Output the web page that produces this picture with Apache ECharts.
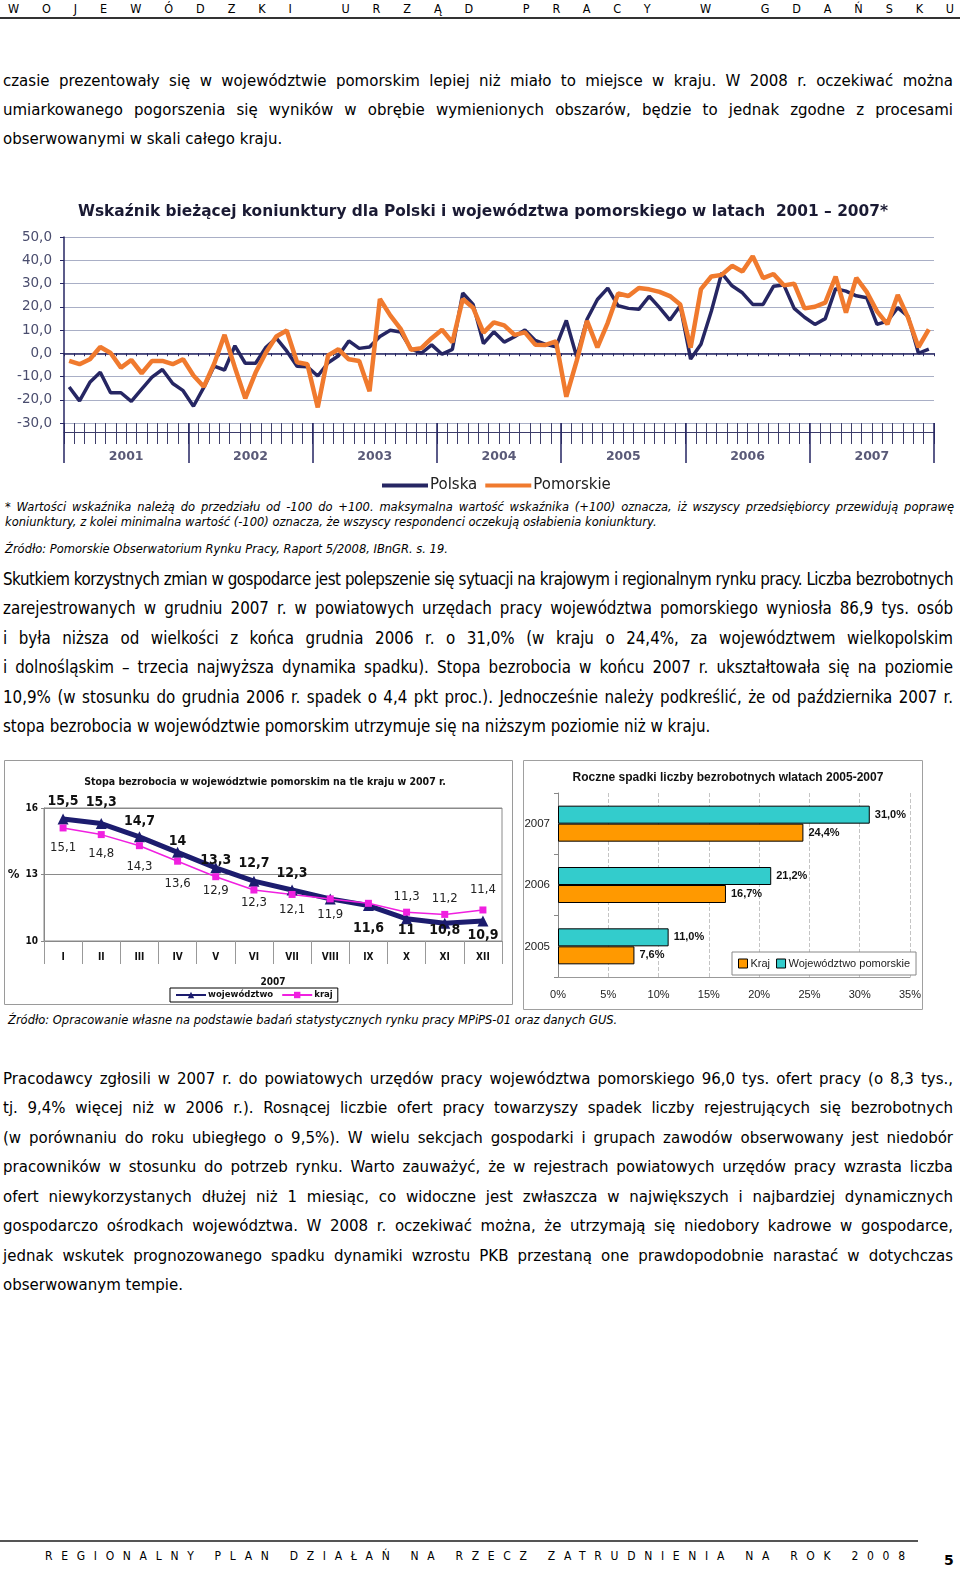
<!DOCTYPE html>
<html><head><meta charset="utf-8">
<script src="https://cdn.jsdelivr.net/npm/echarts/dist/echarts.min.js"></script>
<style>
html,body{margin:0;padding:0;background:#fff;}
body{width:960px;height:1569px;position:relative;overflow:hidden;font-family:"DejaVu Sans",Verdana,sans-serif;color:#000;}
.l{position:absolute;left:3px;width:950px;height:20px;line-height:20px;font-size:15px;white-space:nowrap;}
.c{font-family:"DejaVu Sans Condensed","DejaVu Sans",sans-serif;font-size:16.8px;}
.f{position:absolute;left:5px;width:949px;height:16px;line-height:16px;font-size:11.5px;font-style:italic;white-space:nowrap;}
.j{text-align:justify;text-align-last:justify;}
.hd{position:absolute;white-space:nowrap;font-family:"DejaVu Sans Condensed","DejaVu Sans",sans-serif;}
.rule{position:absolute;background:#333;}
.ch{position:absolute;}
</style>
</head><body>

<div class="hd" id="hdr" style="left:8px;top:1px;font-size:12.5px;line-height:16px;">WOJEWÓDZKI URZĄD PRACY W GDAŃSKU</div>
<div class="rule" style="left:0;top:17px;width:960px;height:2px;"></div>

<div class="l" data-j="1" style="top:71px;"><span>czasie prezentowały się w województwie pomorskim lepiej niż miało to miejsce w kraju. W 2008 r. oczekiwać można</span></div>
<div class="l" data-j="1" style="top:100px;"><span>umiarkowanego pogorszenia się wyników w obrębie wymienionych obszarów, będzie to jednak zgodne z procesami</span></div>
<div class="l" style="top:129px;"><span>obserwowanymi w skali całego kraju.</span></div>

<div class="ch" id="c1" style="left:0;top:190px;width:960px;height:300px;"></div>

<div class="f" data-j="1" style="top:499px;"><span>* Wartości wskaźnika należą do przedziału od -100 do +100. maksymalna wartość wskaźnika (+100) oznacza, iż wszyscy przedsiębiorcy przewidują poprawę</span></div>
<div class="f" style="top:514px;"><span>koniunktury, z kolei minimalna wartość (-100) oznacza, że wszyscy respondenci oczekują osłabienia koniunktury.</span></div>
<div class="f" style="top:541px;"><span>Źródło: Pomorskie Obserwatorium Rynku Pracy, Raport 5/2008, IBnGR. s. 19.</span></div>

<div class="l c" data-j="1" style="top:569px;"><span>Skutkiem korzystnych zmian w gospodarce jest polepszenie się sytuacji na krajowym i regionalnym rynku pracy. Liczba bezrobotnych</span></div>
<div class="l c" data-j="1" style="top:598px;"><span>zarejestrowanych w grudniu 2007 r. w powiatowych urzędach pracy województwa pomorskiego wyniosła 86,9 tys. osób</span></div>
<div class="l c" data-j="1" style="top:628px;"><span>i była niższa od wielkości z końca grudnia 2006 r. o 31,0% (w kraju o 24,4%, za województwem wielkopolskim</span></div>
<div class="l c" data-j="1" style="top:657px;"><span>i dolnośląskim – trzecia najwyższa dynamika spadku). Stopa bezrobocia w końcu 2007 r. ukształtowała się na poziomie</span></div>
<div class="l c" data-j="1" style="top:687px;"><span>10,9% (w stosunku do grudnia 2006 r. spadek o 4,4 pkt proc.). Jednocześnie należy podkreślić, że od października 2007 r.</span></div>
<div class="l c" style="top:716px;"><span>stopa bezrobocia w województwie pomorskim utrzymuje się na niższym poziomie niż w kraju.</span></div>

<div class="ch" id="c2" style="left:0;top:755px;width:520px;height:255px;"></div>
<div class="ch" id="c3" style="left:515px;top:755px;width:445px;height:255px;"></div>

<div class="f" style="top:1012px;left:8px;"><span>Źródło: Opracowanie własne na podstawie badań statystycznych rynku pracy MPiPS-01 oraz danych GUS.</span></div>

<div class="l" data-j="1" style="top:1069px;"><span>Pracodawcy zgłosili w 2007 r. do powiatowych urzędów pracy województwa pomorskiego 96,0 tys. ofert pracy (o 8,3 tys.,</span></div>
<div class="l" data-j="1" style="top:1098px;"><span>tj. 9,4% więcej niż w 2006 r.). Rosnącej liczbie ofert pracy towarzyszy spadek liczby rejestrujących się bezrobotnych</span></div>
<div class="l" data-j="1" style="top:1128px;"><span>(w porównaniu do roku ubiegłego o 9,5%). W wielu sekcjach gospodarki i grupach zawodów obserwowany jest niedobór</span></div>
<div class="l" data-j="1" style="top:1157px;"><span>pracowników w stosunku do potrzeb rynku. Warto zauważyć, że w rejestrach powiatowych urzędów pracy wzrasta liczba</span></div>
<div class="l" data-j="1" style="top:1187px;"><span>ofert niewykorzystanych dłużej niż 1 miesiąc, co widoczne jest zwłaszcza w największych i najbardziej dynamicznych</span></div>
<div class="l" data-j="1" style="top:1216px;"><span>gospodarczo ośrodkach województwa. W 2008 r. oczekiwać można, że utrzymają się niedobory kadrowe w gospodarce,</span></div>
<div class="l" data-j="1" style="top:1246px;"><span>jednak wskutek prognozowanego spadku dynamiki wzrostu PKB przestaną one prawdopodobnie narastać w dotychczas</span></div>
<div class="l" style="top:1275px;"><span>obserwowanym tempie.</span></div>

<div class="rule" style="left:0;top:1540px;width:918px;height:2px;background:#555;"></div>
<div class="hd" id="ftr" style="left:45px;top:1548px;font-size:12px;line-height:16px;">REGIONALNY PLAN DZIAŁAŃ NA RZECZ ZATRUDNIENIA NA ROK 2008</div>
<div class="hd" style="left:944px;top:1551px;font-size:14px;line-height:18px;font-weight:bold;font-family:'DejaVu Sans',sans-serif;">5</div>

<script>
// ---------- Chart 1 data: business climate index, monthly 2001-2007 ----------
const years = ['2001','2002','2003','2004','2005','2006','2007'];
const polska = [
 -14.5,-20.5,-12.5,-8.2,-17,-17,-20.7,-15.4,-10.3,-7,-13,-16.1,
 -22.8,-14.7,-5.5,-7.2,3.2,-4.3,-4.3,2.6,6.5,1,-5.6,-5.8,
 -9.8,-4.1,-1.1,5.3,2.1,2.7,7.2,9.9,9.1,1.9,0,3.6,
 -0.4,1.7,25.9,21,4.2,9.2,4.8,7.1,10,5.5,3.8,2.8,
 14.1,-1.5,14.6,23.1,28,20.4,19.3,18.9,24.5,19.6,14.3,20.4,
 -2.5,3.9,18.1,34.5,29,26,21,21,28.8,29.4,19.3,15.5,
 12.4,14.9,27.8,26.7,24.7,23.9,12.4,13.8,19.6,15.8,0,1.8
];
const pomorskie = [
 -3.3,-4.7,-2.6,2.7,0.1,-6.2,-2.9,-8.6,-3.3,-3.3,-4.7,-2.6,
 -9.6,-14.4,-4.5,7.9,-6.1,-19.4,-8.3,0.3,7.2,9.8,-3.9,-4.7,
 -23.3,-0.9,1.7,-2.6,-3.3,-16.3,23.3,16.3,10.5,1.5,2.2,6.5,
 10.1,4.7,23.3,19.6,8.9,13.3,12,7.9,9,3.7,3.6,5.1,
 -18.7,-3.3,13.9,2.5,13.1,25.7,24.6,28.1,27.5,26.4,24.6,21,
 2.4,27.6,33,33.7,37.6,35.2,41.7,32.3,34.1,29.2,29.9,19.3,
 20,21.8,33,17.5,32.4,26.4,18,12.5,25.1,15.3,2.6,10.3
];
const yTicks = {min:-30, max:50, interval:10};

// ---------- Chart 2 data: unemployment rate 2007 ----------
const monthsRoman = ['I','II','III','IV','V','VI','VII','VIII','IX','X','XI','XII'];
const wojewodztwo = [15.5,15.3,14.7,14,13.3,12.7,12.3,11.9,11.6,11,10.8,10.9];
const kraj = [15.1,14.8,14.3,13.6,12.9,12.3,12.1,11.9,11.7,11.3,11.2,11.4];

// ---------- Chart 3 data: yearly falls in number of unemployed ----------
const barYears = ['2005','2006','2007'];
const spadekKraj = [7.6,16.7,24.4];
const spadekWoj = [11.0,21.2,31.0];
</script>

<script>
// fit justified text lines
document.querySelectorAll('[data-j]').forEach(d=>{
  const s=d.firstElementChild; const W=d.clientWidth; const w=s.getBoundingClientRect().width;
  if(w>W-1){ const n=s.textContent.length; d.style.letterSpacing=((W-1-w)/n)+'px'; }
  d.classList.add('j');
});
function spread(id, span){
  const d=document.getElementById(id); const w=d.getBoundingClientRect().width; const n=d.textContent.length;
  d.style.letterSpacing=((span-w)/(n-1))+'px';
}
spread('hdr', 946);
spread('ftr', 860);

const comma = v => String(v).replace('.', ',');

// ---------- Chart 1 ----------
const months = [];
years.forEach(y=>{ for(let m=1;m<=12;m++) months.push(y+'-'+m); });
const c1 = echarts.init(document.getElementById('c1'));
const navy = '#262663';
const hiddenY = i => ({type:'value', gridIndex:i, show:false, min:0, max:1});
c1.setOption({
  animation:false,
  title:{text:'Wskaźnik bieżącej koniunktury dla Polski i województwa pomorskiego w latach  2001 – 2007*',
    left:478, textAlign:'center', top:9, textStyle:{fontFamily:'DejaVu Sans', fontWeight:'bold', fontSize:15.4, color:'#1a1a33'}},
  legend:{data:['Polska','Pomorskie'], left:377, top:283, icon:'rect', itemWidth:46, itemHeight:4, itemGap:8,
    textStyle:{fontFamily:'DejaVu Sans', fontSize:15, color:'#222', padding:[0,0,0,-3]}},
  grid:[
    {left:64, top:47, width:870, height:186},
    {left:64, top:47, width:870, height:195},
    {left:64, top:47, width:870, height:195},
    {left:64, top:47, width:870, height:186}
  ],
  xAxis:[
    {type:'category', gridIndex:0, data:months, boundaryGap:true,
      axisLine:{show:true, onZero:true, lineStyle:{color:navy, width:1.5}},
      axisTick:{show:true, interval:0, length:3, lineStyle:{color:navy}}, axisLabel:{show:false}, splitLine:{show:false}},
    {type:'category', gridIndex:1, data:months, position:'bottom', boundaryGap:true,
      axisLine:{show:true, onZero:false, lineStyle:{color:'#3d3d6a', width:1}},
      axisTick:{show:true, interval:0, length:12, lineStyle:{color:'#3d3d6a'}}, axisLabel:{show:false}, splitLine:{show:false}},
    {type:'category', gridIndex:2, data:months, position:'bottom', boundaryGap:true,
      axisLine:{show:false, onZero:false},
      axisTick:{show:true, interval:0, inside:true, length:9, lineStyle:{color:'#3d3d6a'}}, axisLabel:{show:false}, splitLine:{show:false}},
    {type:'category', gridIndex:3, data:years, position:'bottom', boundaryGap:true,
      axisLine:{show:false, onZero:false},
      axisTick:{show:true, interval:0, length:40, lineStyle:{color:navy, width:1.5}},
      axisLabel:{show:true, margin:27, fontSize:12.5, fontWeight:'bold', color:'#5a5a78', fontFamily:'DejaVu Sans'}, splitLine:{show:false}}
  ],
  yAxis:[
    {type:'value', gridIndex:0, min:yTicks.min, max:yTicks.max, interval:yTicks.interval,
      axisLine:{show:true, lineStyle:{color:navy, width:1.5}},
      axisTick:{show:true, length:4, lineStyle:{color:navy}},
      axisLabel:{formatter:v=>v.toFixed(1).replace('.',','), color:'#4a4d6e', fontSize:13.5, fontFamily:'DejaVu Sans', margin:12},
      splitLine:{show:true, lineStyle:{color:'#a9afc6', width:1.2}}},
    hiddenY(1), hiddenY(2), hiddenY(3)
  ],
  series:[
    {name:'Polska', type:'line', data:polska, xAxisIndex:0, yAxisIndex:0, symbol:'none', color:navy, lineStyle:{width:3.5, color:navy}},
    {name:'Pomorskie', type:'line', data:pomorskie, xAxisIndex:0, yAxisIndex:0, symbol:'none', color:'#f07a2e', lineStyle:{width:4.5, color:'#f07a2e'}}
  ]
});

// ---------- Chart 2 ----------
const narrow = "'Liberation Sans Narrow','DejaVu Sans Condensed','Liberation Sans',sans-serif";
const wojLabelPos = ['top','top','top','top','top','top','top',null,'bottom','bottom','bottom','bottom'];
const wojLabelGap = [5,9,3,-2,-5,5,4,0,10,-1,-5,2];
const krajLabelPos = ['bottom','bottom','bottom','bottom','bottom','bottom','bottom','bottom',null,'top','top','top'];
const krajLabelGap = [10,9,11,12,4,3,5,6,0,6,6,10];
const c2 = echarts.init(document.getElementById('c2'));
c2.setOption({
  animation:false,
  graphic:[{type:'rect', shape:{x:4.5, y:5.5, width:508, height:244}, style:{fill:'none', stroke:'#9a9a9a', lineWidth:1}, silent:true}],
  title:{text:'Stopa bezrobocia w województwie pomorskim na tle kraju w 2007 r.', left:260, textAlign:'center', top:17,
    textStyle:{fontFamily:narrow, fontWeight:'bold', fontSize:10.5, color:'#111'}},
  legend:{data:['województwo','kraj'], left:170, top:233, borderColor:'#000', borderWidth:1, padding:[2,5], itemGap:8,
    itemWidth:30, itemHeight:8, textStyle:{fontFamily:narrow, fontSize:9.5, fontWeight:'bold', color:'#111', padding:[0,0,0,-3]}},
  grid:{left:44, top:53, width:458, height:133, show:true, borderColor:'#8a8a8a', borderWidth:1},
  xAxis:{type:'category', data:monthsRoman, boundaryGap:true,
    axisLine:{show:true, lineStyle:{color:'#888'}}, axisTick:{show:true, interval:0, length:23, lineStyle:{color:'#999'}},
    axisLabel:{margin:11, fontSize:10, fontWeight:'bold', color:'#111', fontFamily:narrow},
    name:'2007', nameLocation:'middle', nameGap:36, nameTextStyle:{fontSize:10, fontWeight:'bold', color:'#111', fontFamily:narrow}},
  yAxis:{type:'value', min:10, max:16, interval:3,
    axisLine:{show:true, lineStyle:{color:'#888'}}, axisTick:{show:true, length:3, lineStyle:{color:'#888'}},
    axisLabel:{margin:6, fontSize:10, fontWeight:'bold', color:'#111', fontFamily:narrow},
    splitLine:{show:true, lineStyle:{color:'#8a8a8a'}},
    name:'%', nameLocation:'middle', nameRotate:0, nameGap:24, nameTextStyle:{fontSize:13, fontWeight:'bold', color:'#111', fontFamily:narrow}},
  series:[
    {name:'województwo', type:'line', color:'#1c1c6e', symbol:'triangle', symbolSize:11, lineStyle:{width:5, color:'#1c1c6e'},
      data:wojewodztwo.map((v,i)=>({value:v, label:wojLabelPos[i]?{show:true, position:wojLabelPos[i], distance:wojLabelGap[i]}:{show:false}})),
      label:{formatter:p=>comma(p.value), fontSize:14, fontWeight:'bold', color:'#111', fontFamily:narrow}},
    {name:'kraj', type:'line', color:'#f020e0', symbol:'rect', symbolSize:7, lineStyle:{width:1.5, color:'#f020e0'},
      data:kraj.map((v,i)=>({value:v, label:krajLabelPos[i]?{show:true, position:krajLabelPos[i], distance:krajLabelGap[i]}:{show:false}})),
      label:{formatter:p=>comma(p.value), fontSize:13, color:'#222', fontFamily:narrow}}
  ]
});

// ---------- Chart 3 ----------
const arial = "'Liberation Sans',Arial,sans-serif";
const barLabel = {show:true, position:'right', distance:5, formatter:p=>p.value.toFixed(1).replace('.',',')+'%',
  fontSize:11, fontWeight:'bold', color:'#111', fontFamily:arial};
const c3 = echarts.init(document.getElementById('c3'));
c3.setOption({
  animation:false,
  graphic:[{type:'rect', shape:{x:8.5, y:5.5, width:399, height:249}, style:{fill:'none', stroke:'#a0a0a0', lineWidth:1}, silent:true}],
  title:{text:'Roczne spadki liczby bezrobotnych wlatach 2005-2007', left:208, textAlign:'center', top:12,
    textStyle:{fontFamily:arial, fontWeight:'bold', fontSize:12, color:'#111'}},
  legend:{data:['Kraj','Województwo pomorskie'], left:217, top:197, borderColor:'#888', borderWidth:1, padding:[6,6],
    backgroundColor:'#fff', icon:'rect', itemWidth:9, itemHeight:9, itemGap:6,
    itemStyle:{borderColor:'#000', borderWidth:1}, textStyle:{fontFamily:arial, fontSize:11, color:'#222', padding:[0,0,0,-2]}},
  grid:{left:43, top:38, width:352, height:184},
  xAxis:{type:'value', min:0, max:35, interval:5,
    axisLine:{show:true, lineStyle:{color:'#999'}}, axisTick:{show:false},
    axisLabel:{formatter:'{value}%', fontSize:11, color:'#222', fontFamily:arial, margin:12},
    splitLine:{show:true, lineStyle:{color:'#c4c4c4', type:'dashed'}}},
  yAxis:{type:'category', data:barYears,
    axisLine:{show:true, lineStyle:{color:'#888'}}, axisTick:{show:true, length:4, lineStyle:{color:'#888'}},
    axisLabel:{fontSize:11.5, color:'#222', fontFamily:arial, margin:8}},
  series:[
    {name:'Województwo pomorskie', type:'bar', data:spadekWoj, barWidth:18, barGap:'0%', color:'#33cccc',
      itemStyle:{color:'#33cccc', borderColor:'#000', borderWidth:1}, label:barLabel},
    {name:'Kraj', type:'bar', data:spadekKraj, barWidth:18, barGap:'0%', color:'#ff9900',
      itemStyle:{color:'#ff9900', borderColor:'#000', borderWidth:1}, label:barLabel}
  ]
});
</script>
</body></html>
